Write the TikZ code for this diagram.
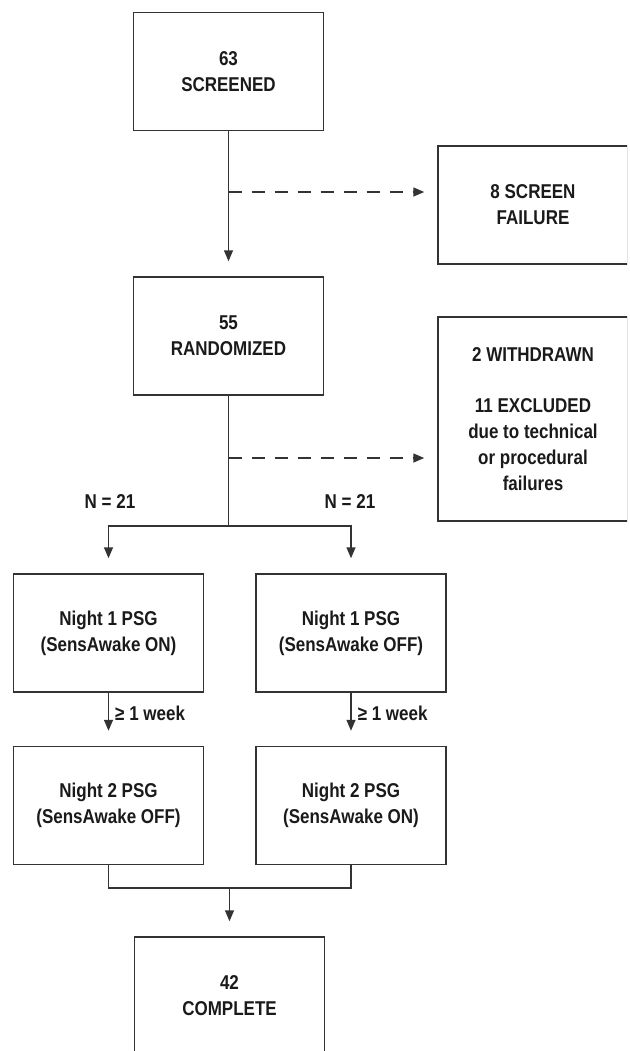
\documentclass[tikz,border=0pt]{standalone}
\usepackage{fontspec}
\setmainfont{Liberation Sans}[FakeStretch=0.85]
\usetikzlibrary{arrows.meta,positioning}
\definecolor{lncol}{HTML}{333333}
\definecolor{txtcol}{HTML}{1A1A1A}
\tikzset{
    box/.style={draw=lncol,line width=0.75pt,minimum width=95pt,minimum height=59pt,
        inner sep=0pt,align=center,text=txtcol,font=\fontsize{10}{12.9}\selectfont\bfseries},
    lbl/.style={inner sep=0pt,text=txtcol,font=\fontsize{10}{12.9}\selectfont\bfseries},
    flow/.style={draw=lncol,line width=0.75pt,>={Triangle[length=5.5pt,width=4.5pt]}},
    gap/.style={shorten >=7.5pt},
    dashflow/.style={flow,dash pattern=on 6.5pt off 5pt}
}
\begin{document}
\begin{tikzpicture}[x=0.5pt,y=-0.5pt]
\useasboundingbox (0,0) rectangle (629,1051);
\clip (0,0) rectangle (627,1051);

\node[box] (scr) at (228.5,71.5) {63\\SCREENED};
\node[box] (fail) at (533,205) {8 SCREEN\\FAILURE};
\node[box] (rand) at (228.5,336) {55\\RANDOMIZED};
\node[box,minimum height=102pt] (excl) at (533,419)
    {2 WITHDRAWN\\[12.9pt]11 EXCLUDED\\due to technical\\or procedural\\failures};
\node[box] (n1a) at (108.5,633) {Night 1 PSG\\(SensAwake ON)};
\node[box] (n1b) at (351,633) {Night 1 PSG\\(SensAwake OFF)};
\node[box] (n2a) at (108.5,805.5) {Night 2 PSG\\(SensAwake OFF)};
\node[box] (n2b) at (351,805.5) {Night 2 PSG\\(SensAwake ON)};
\node[box] (comp) at (229.5,996) {42\\COMPLETE};

\coordinate (fa) at (228.5,192);
\coordinate (ex) at (228.5,458);
\coordinate (sp) at (228.5,526);
\coordinate (jn) at (229.5,888);

\draw[flow,->,gap] (scr) -- (rand);
\draw[dashflow,->,shorten >=6.5pt] (fa) -- (fa -| fail.west);

\draw[flow] (rand) -- (sp);
\draw[dashflow,->,shorten >=6.5pt] (ex) -- (ex -| excl.west);
\draw[flow,->,gap] (sp) -| (n1a);
\draw[flow,->,gap] (sp) -| (n1b);
\node[lbl] (na) at (110,502) {N = 21};
\node[lbl] (nb) at (350,502) {N = 21};

\draw[flow,->,gap] (n1a) -- (n2a) node[lbl,right=3pt,pos=0.38] (wka) {≥ 1 week};
\draw[flow,->,gap] (n1b) -- (n2b) node[lbl,right=3pt,pos=0.38] (wkb) {≥ 1 week};

\draw[flow] (n2a.south) |- (jn) -| (n2b.south);
\draw[flow,->,gap] (jn) -- (comp);

\end{tikzpicture}
\end{document}
